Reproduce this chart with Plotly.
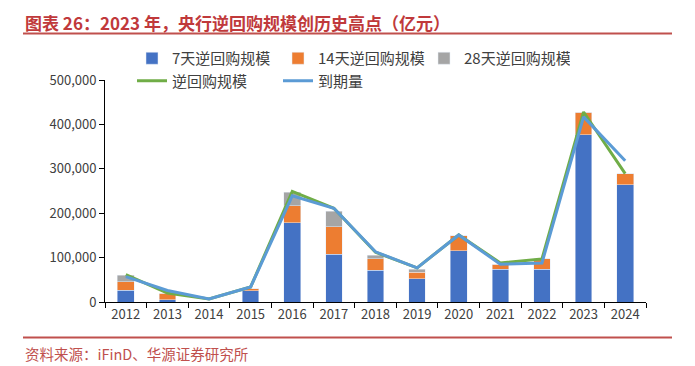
import plotly.graph_objects as go

years = ["2012", "2013", "2014", "2015", "2016", "2017", "2018", "2019", "2020", "2021", "2022", "2023", "2024"]
repo_7d = [27000, 5000, 0, 25600, 179000, 107000, 71000, 52000, 115500, 73500, 74000, 377000, 264000]
repo_14d = [19000, 14500, 0, 4400, 38000, 62000, 26000, 15000, 33500, 11500, 23000, 50000, 25000]
repo_28d = [14000, 0, 0, 0, 30000, 35000, 8000, 6500, 0, 0, 0, 0, 0]
repo_total = [61500, 20000, 7000, 34000, 249000, 211000, 112000, 77000, 151000, 88000, 97000, 428000, 289000]
maturity = [57000, 26000, 7000, 34000, 239000, 211000, 113000, 77000, 151000, 85000, 88000, 417000, 318000]

FONT = "Noto Sans CJK SC, Noto Sans, sans-serif"
TXT = "#404040"

# figure size (page has an 8px body margin) and plot-area geometry in figure pixels
W, H = 687, 358
L, R, T, B = 97, 638, 72, 294
PW, PH = R - L, B - T


def px(x):
    return (x - L) / PW


def py(y):
    return (B - y) / PH


fig = go.Figure()
fig.add_trace(go.Bar(x=years, y=repo_7d, name="7天逆回购规模", marker_color="#4472C4", width=0.4))
fig.add_trace(go.Bar(x=years, y=repo_14d, name="14天逆回购规模", marker_color="#ED7D31", width=0.4))
fig.add_trace(go.Bar(x=years, y=repo_28d, name="28天逆回购规模", marker_color="#A5A5A5", width=0.4))
fig.add_trace(go.Scatter(x=years, y=repo_total, name="逆回购规模", mode="lines",
                         line=dict(color="#70AD47", width=3)))
fig.add_trace(go.Scatter(x=years, y=maturity, name="到期量", mode="lines",
                         line=dict(color="#5B9BD5", width=3)))

fig.update_layout(
    width=W, height=H,
    barmode="stack",
    plot_bgcolor="white", paper_bgcolor="white",
    margin=dict(l=L, r=W - R, t=T, b=H - B, autoexpand=False),
    font=dict(family=FONT, size=13, color=TXT),
    showlegend=True,
    legend=dict(orientation="h", x=px(124), y=py(34), xanchor="left", yanchor="top",
                entrywidth=101, entrywidthmode="pixels",
                font=dict(size=15, color=TXT), bgcolor="rgba(0,0,0,0)",
                traceorder="normal"),
    xaxis=dict(type="category", showline=True, linecolor="#000000", linewidth=1,
               ticks="outside", tickson="boundaries", ticklen=5, tickcolor="#000000",
               showgrid=False, tickfont=dict(size=13, color=TXT)),
    yaxis=dict(range=[0, 500000], dtick=100000, tickformat=",d", showline=True,
               linecolor="#000000", linewidth=1, ticks="outside", ticklen=5,
               tickcolor="#000000", showgrid=False, zeroline=False,
               tickfont=dict(size=13, color=TXT)),
)

fig.add_annotation(xref="paper", yref="paper", x=px(15), y=py(14),
                   xanchor="left", yanchor="middle", showarrow=False,
                   text="<b>图表 26：2023 年，央行逆回购规模创历史高点（亿元）</b>",
                   font=dict(family=FONT, size=17, color="#C0393B"))
fig.add_annotation(xref="paper", yref="paper", x=px(15), y=py(345),
                   xanchor="left", yanchor="middle", showarrow=False,
                   text="资料来源：iFinD、华源证券研究所",
                   font=dict(family=FONT, size=14.5, color="#C0504D"))
fig.add_shape(type="line", xref="paper", yref="paper",
              x0=px(15), x1=px(664), y0=py(25.5), y1=py(25.5),
              line=dict(color="#C0504D", width=2))
fig.add_shape(type="line", xref="paper", yref="paper",
              x0=px(15), x1=px(664), y0=py(329.5), y1=py(329.5),
              line=dict(color="#C0504D", width=2))

fig.write_html("out.html")
